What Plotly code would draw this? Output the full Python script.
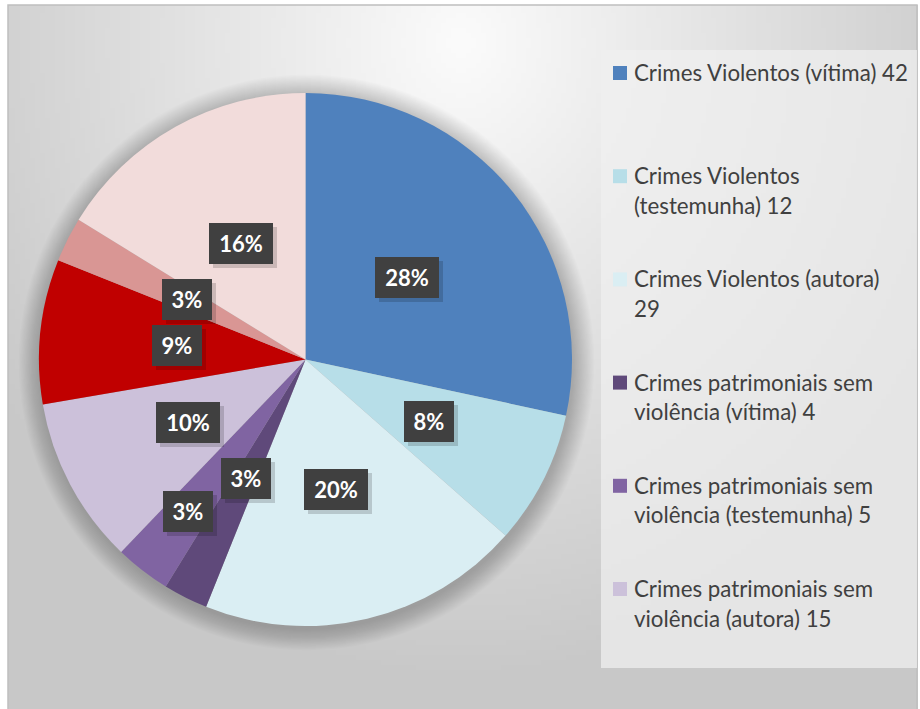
import math, zlib, struct, base64
import plotly.graph_objects as go

# ---------------- data ----------------
categories = [
    "Crimes Violentos (vítima)",
    "Crimes Violentos (testemunha)",
    "Crimes Violentos (autora)",
    "Crimes patrimoniais sem violência (vítima)",
    "Crimes patrimoniais sem violência (testemunha)",
    "Crimes patrimoniais sem violência (autora)",
    "Outros crimes (vítima)",
    "Outros crimes (testemunha)",
    "Outros crimes (autora)",
]
values = [42, 12, 29, 4, 5, 15, 13, 4, 24]
colors = ["#4F81BD", "#B7DEE8", "#DAEEF3", "#5F497A", "#8064A2", "#CCC1DA",
          "#C00000", "#D99694", "#F2DCDB"]
# legend shows only the first six entries (first line of each wrapped entry)
legend_count = 6
legend_first_line = ["Crimes Violentos (vítima) 42", "Crimes Violentos",
                     "Crimes Violentos (autora)", "Crimes patrimoniais sem",
                     "Crimes patrimoniais sem", "Crimes patrimoniais sem"]
# radial position of each percentage label (fraction of radius)
label_r = [0.49, 0.52, 0.50, 0.50, 0.72, 0.50, 0.485, 0.50, 0.50]

W, H = 920, 709
CX, CY, R = 305.5, 359.5, 266.5


def px(x):
    return x / W


def py(y):
    return 1 - y / H


# ---------------- background gradient image ----------------
def png_data_uri(w, h, func):
    raw = bytearray()
    for y in range(h):
        raw.append(0)
        for x in range(w):
            v = func(x, y)
            raw += bytes((v, v, v))
    comp = zlib.compress(bytes(raw), 9)

    def chunk(t, d):
        return struct.pack(">I", len(d)) + t + d + struct.pack(">I", zlib.crc32(t + d) & 0xffffffff)

    png = (b"\x89PNG\r\n\x1a\n" + chunk(b"IHDR", struct.pack(">IIBBBBB", w, h, 8, 2, 0, 0, 0))
           + chunk(b"IDAT", comp) + chunk(b"IEND", b""))
    return "data:image/png;base64," + base64.b64encode(png).decode()


GW, GH = 182, 141
BX0, BY0, BX1, BY1 = 8, 5, 918, 712


def grad(x, y):
    X = BX0 + x * (BX1 - BX0) / (GW - 1)
    Y = BY0 + y * (BY1 - BY0) / (GH - 1)
    t = math.sqrt(((X - 460) / 560) ** 2 + ((Y - 40) / 640) ** 2)
    t = min(t, 1.0)
    return int(round(251 - 51 * t))


bg_uri = png_data_uri(GW, GH, grad)

fig = go.Figure()
fig.add_trace(go.Pie(
    labels=categories, values=values, sort=False, direction="clockwise", rotation=0,
    marker=dict(colors=colors, line=dict(width=0)),
    textinfo="none", hoverinfo="label+value+percent", showlegend=False,
    domain=dict(x=[px(CX - R), px(CX + R)], y=[py(CY + R), py(CY - R)]),
))

shapes = []
# outer chart border
shapes.append(dict(type="rect", xref="paper", yref="paper", x0=px(BX0), x1=px(BX1 - 1),
                   y0=py(BY1), y1=py(BY0), line=dict(color="#BFBFBF", width=1.5),
                   fillcolor="rgba(0,0,0,0)", layer="below"))
# pie soft shadow
for k in range(18):
    rr = R + 1 + k * 1.2
    shapes.append(dict(type="circle", xref="paper", yref="paper",
                       x0=px(CX + 1 - rr), x1=px(CX + 1 + rr),
                       y0=py(CY + 3 + rr), y1=py(CY + 3 - rr),
                       fillcolor="rgba(0,0,0,0.011)", line=dict(width=0), layer="below"))
# legend box
shapes.append(dict(type="rect", xref="paper", yref="paper", x0=px(601), x1=px(917),
                   y0=py(668), y1=py(50), fillcolor="rgba(240,240,240,0.72)",
                   line=dict(width=0), layer="below"))

annotations = []
# percentage labels
total = sum(values)
cum = 0.0
for v, rf in zip(values, label_r):
    mid = (cum + v / 2) / total * 2 * math.pi
    cum += v
    lx = CX + rf * R * math.sin(mid)
    ly = CY - rf * R * math.cos(mid)
    txt = f"{round(100 * v / total)}%"
    bw = 50 if len(txt) == 2 else 64
    bh = 41
    # shadow
    annotations.append(dict(x=px(lx + 4), y=py(ly + 4), xref="paper", yref="paper",
                            text="", showarrow=False, width=bw, height=bh,
                            bgcolor="rgba(0,0,0,0.16)", borderwidth=0, borderpad=0,
                            xanchor="center", yanchor="middle"))
    annotations.append(dict(x=px(lx), y=py(ly), xref="paper", yref="paper",
                            text=f"<b>{txt}</b>", showarrow=False, width=bw, height=bh,
                            bgcolor="#404040", borderwidth=0, borderpad=0,
                            font=dict(family="Lato", size=22, color="white"),
                            xanchor="center", yanchor="middle", align="center"))

# manual legend
LEG_Y0, LEG_STEP, LINE_H = 72.5, 103.2, 29.5
for i in range(legend_count):
    full = f"{categories[i]} {values[i]}"
    first = legend_first_line[i]
    rest = full[len(first):].strip()
    lines = [first] + ([rest] if rest else [])
    y0 = LEG_Y0 + i * LEG_STEP
    shapes.append(dict(type="rect", xref="paper", yref="paper", x0=px(613), x1=px(627),
                       y0=py(y0 + 7.5), y1=py(y0 - 6.5), fillcolor=colors[i],
                       line=dict(width=0)))
    for j, ln in enumerate(lines):
        annotations.append(dict(x=px(632), y=py(y0 + j * LINE_H), xref="paper", yref="paper",
                                text=ln, showarrow=False, xanchor="left", yanchor="middle",
                                font=dict(family="Lato", size=22.3, color="#404040")))

fig.update_layout(
    width=W, height=H, margin=dict(l=0, r=0, t=0, b=0),
    paper_bgcolor="white", plot_bgcolor="white",
    shapes=shapes, annotations=annotations,
    images=[dict(source=bg_uri, xref="paper", yref="paper", x=px(BX0), y=py(BY0),
                 sizex=(BX1 - BX0) / W, sizey=(BY1 - BY0) / H, sizing="stretch",
                 xanchor="left", yanchor="top", layer="below")],
)
fig.write_html("out.html", config={"displayModeBar": False},
               post_script="document.body.style.margin='0';document.body.style.overflow='hidden';")
